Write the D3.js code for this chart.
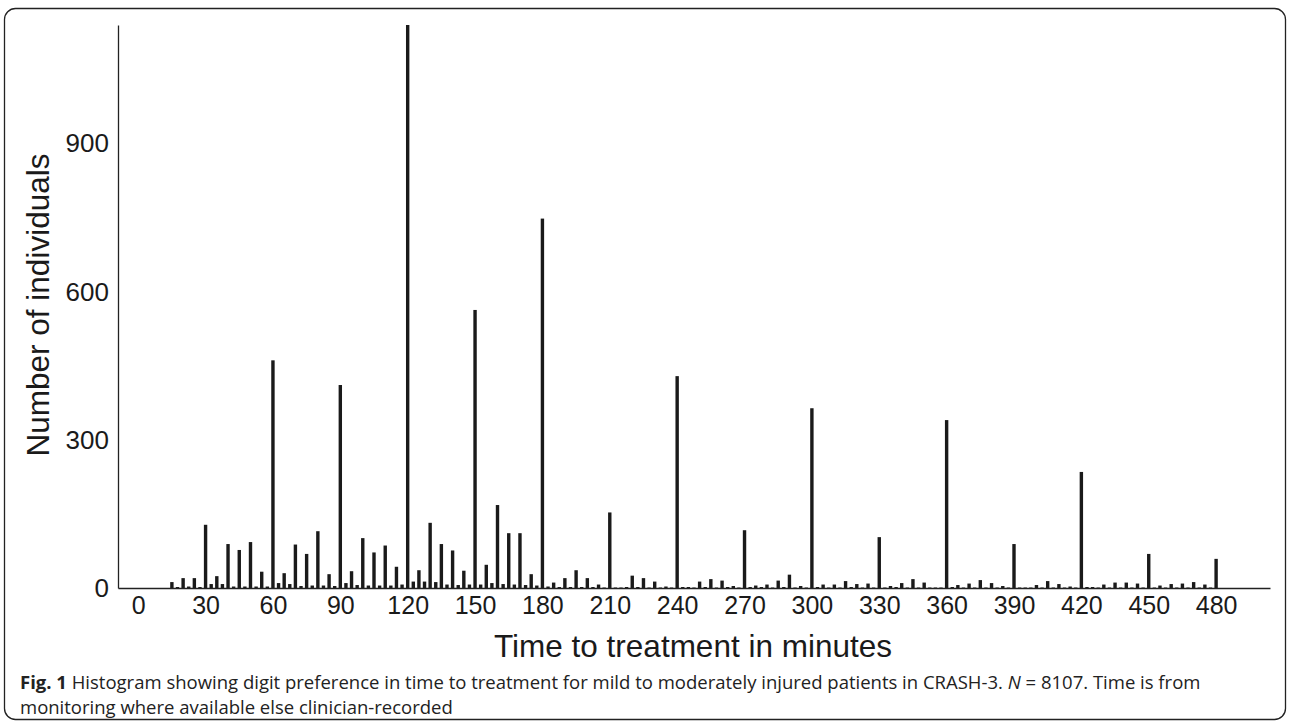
<!DOCTYPE html>
<html>
<head>
<meta charset="utf-8">
<script src="https://cdn.jsdelivr.net/npm/d3@7"></script>
<style>
  body { margin: 0; background: #fff; }
  .tick text { font-family: "Liberation Sans", Arial, sans-serif; fill: #1a1a1a; }
  .caption { font-family: "Open Sans", "Liberation Sans", sans-serif; font-size: 18.5px; fill: #222; }
</style>
</head>
<body>
<div id="chart"></div>
<script>
// counts at the round minutes (every 5 min from 15 to 480)
var majorMinutes = d3.range(15, 481, 5);
var majorCounts = [
  12, 20, 20, 128, 24, 89, 77, 93, 33, 461,      // 15-60
  30, 88, 69, 115, 28, 411, 34, 101, 72, 86,     // 65-110
  43, 1140, 36, 132, 89, 76, 35, 563, 47, 168,   // 115-160
  111, 111, 28, 748, 11, 20, 36, 20, 7, 153,     // 165-210
  1, 25, 20, 13, 3, 429, 2, 13, 18, 15,          // 215-260
  4, 117, 5, 7, 15, 27, 4, 364, 7, 7,            // 265-310
  14, 8, 9, 103, 4, 10, 18, 11, 1, 340,          // 315-360
  6, 9, 16, 10, 4, 89, 1, 6, 14, 8,              // 365-410
  3, 235, 2, 7, 11, 11, 9, 69, 5, 8,             // 415-460
  9, 12, 7, 59                                    // 465-480
];
// counts at the non-round minutes in between
var minorCounts = [
  2, 3, 2, 8, 8, 3, 3, 3, 3, 10,
  8, 4, 5, 5, 4, 10, 6, 5, 5, 5,
  7, 13, 13, 12, 7, 6, 7, 7, 10, 8,
  7, 6, 5, 3, 2, 2, 2, 2, 1, 1,
  2, 2, 1, 1, 1, 2, 1, 2, 1, 2,
  1, 2, 2, 1, 2, 1, 1, 2, 1, 1,
  2, 1, 1, 1, 2, 1, 1, 1, 1, 2,
  1, 1, 1, 1, 1, 1, 1, 1, 1, 1,
  1, 2, 1, 1, 1, 1, 1, 1, 1, 1,
  1, 1, 1
];
var minorMinutes = majorMinutes.slice(0, -1).map(m => m + 2.5);
var xTicks = d3.range(0, 481, 30);
var yTicks = [0, 300, 600, 900];

var svgWidth = 1290;
var svgHeight = 728;

var svg = d3.select("#chart")
  .append("svg")
  .attr("width", svgWidth)
  .attr("height", svgHeight);

// frame
svg.append("rect")
  .attr("x", 4.5)
  .attr("y", 8.5)
  .attr("width", 1281)
  .attr("height", 711)
  .attr("rx", 11)
  .attr("fill", "none")
  .attr("stroke", "#222")
  .attr("stroke-width", 1.3);

var xScale = d3.scaleLinear()
  .domain([-9, 504])
  .range([118, 1270]);

var yScale = d3.scaleLinear()
  .domain([0, 1140])
  .range([588, 25]);

var bars = majorMinutes.map((m, i) => ({ minute: m, count: majorCounts[i] }))
  .concat(minorMinutes.map((m, i) => ({ minute: m, count: minorCounts[i] })));

var barWidth = 3.4;

svg.append("g")
  .selectAll("rect")
  .data(bars)
  .enter()
  .append("rect")
  .attr("x", d => xScale(d.minute) - barWidth / 2)
  .attr("y", d => yScale(d.count))
  .attr("width", barWidth)
  .attr("height", d => yScale(0) - yScale(d.count))
  .attr("fill", "#1a1a1a");

var bottomAxis = d3.axisBottom(xScale)
  .tickValues(xTicks)
  .tickSize(0)
  .tickSizeOuter(0)
  .tickPadding(10);

var leftAxis = d3.axisLeft(yScale)
  .tickValues(yTicks)
  .tickSize(0)
  .tickSizeOuter(0)
  .tickPadding(9);

var xAxisG = svg.append("g")
  .attr("transform", `translate(0, ${yScale(0)})`)
  .call(bottomAxis);
xAxisG.selectAll(".tick text").attr("font-size", 25).attr("dy", "0.62em");
xAxisG.select(".domain").attr("stroke", "#222").attr("stroke-width", 1.3);

var yAxisG = svg.append("g")
  .attr("transform", `translate(${xScale.range()[0]}, 0)`)
  .call(leftAxis);
yAxisG.selectAll(".tick text").attr("font-size", 26);
yAxisG.select(".domain").attr("stroke", "#222").attr("stroke-width", 1.3);

// axis titles
svg.append("text")
  .attr("x", 693)
  .attr("y", 657)
  .attr("text-anchor", "middle")
  .attr("font-family", "Liberation Sans, Arial, sans-serif")
  .attr("font-size", 31.5)
  .attr("fill", "#1a1a1a")
  .text("Time to treatment in minutes");

svg.append("text")
  .attr("transform", "translate(49, 305) rotate(-90)")
  .attr("text-anchor", "middle")
  .attr("font-family", "Liberation Sans, Arial, sans-serif")
  .attr("font-size", 31.5)
  .attr("fill", "#1a1a1a")
  .text("Number of individuals");

// caption
var cap1 = svg.append("text")
  .attr("class", "caption")
  .attr("x", 20)
  .attr("y", 689);
cap1.append("tspan").attr("font-weight", "bold").text("Fig. 1");
cap1.append("tspan").text(" Histogram showing digit preference in time to treatment for mild to moderately injured patients in CRASH-3. ");
cap1.append("tspan").attr("font-style", "italic").text("N");
cap1.append("tspan").text(" = 8107. Time is from");

svg.append("text")
  .attr("class", "caption")
  .attr("x", 20)
  .attr("y", 714)
  .text("monitoring where available else clinician-recorded");
</script>
</body>
</html>
